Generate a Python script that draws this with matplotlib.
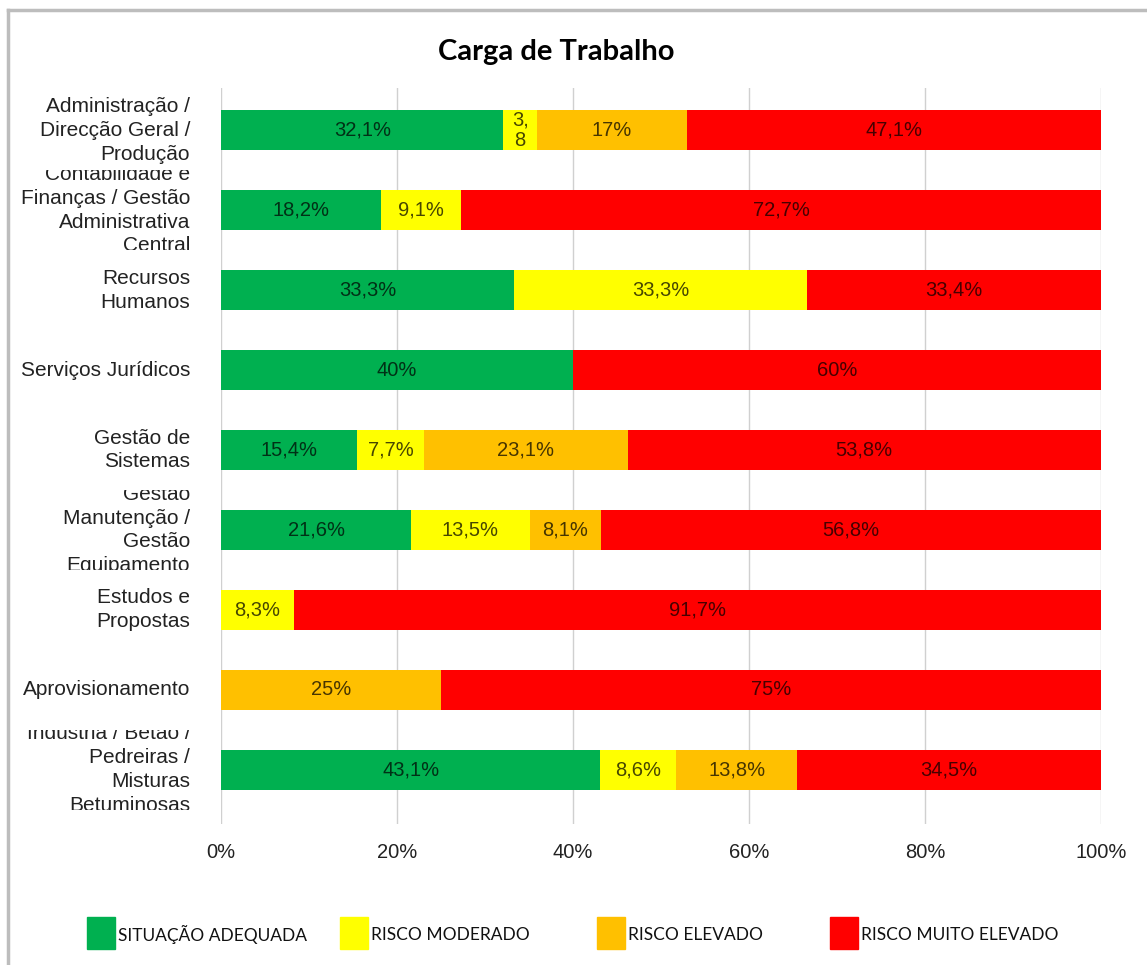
import numpy as np
import matplotlib
matplotlib.use('Agg')
import matplotlib.pyplot as plt
from matplotlib.patches import Rectangle
from matplotlib.lines import Line2D
from matplotlib.transforms import Bbox, TransformedBbox, blended_transform_factory

# data
categories = [
    'Administração /\nDirecção Geral /\nProdução',
    'Contabilidade e\nFinanças / Gestão\nAdministrativa\nCentral',
    'Recursos\nHumanos',
    'Serviços Jurídicos',
    'Gestão de\nSistemas',
    'Gestão\nManutenção /\nGestão\nEquipamento',
    'Estudos e\nPropostas',
    'Aprovisionamento',
    'Indústria / Betão /\nPedreiras /\nMisturas\nBetuminosas',
]
series_names = ['SITUAÇÃO ADEQUADA', 'RISCO MODERADO', 'RISCO ELEVADO', 'RISCO MUITO ELEVADO']
adequada = [32.1, 18.2, 33.3, 40, 15.4, 21.6, 0, 0, 43.1]
moderado = [3.8, 9.1, 33.3, 0, 7.7, 13.5, 8.3, 0, 8.6]
elevado = [17, 0, 0, 0, 23.1, 8.1, 0, 25, 13.8]
muito_elevado = [47.1, 72.7, 33.4, 60, 53.8, 56.8, 91.7, 75, 34.5]
series = [adequada, moderado, elevado, muito_elevado]
colors = ['#00B050', '#FFFF00', '#FFC000', '#FF0000']
xticks = [0, 20, 40, 60, 80, 100]

plt.rcParams['font.family'] = ['Liberation Sans', 'DejaVu Sans']

fig = plt.figure(figsize=(11.47, 9.65), dpi=100)
ax = fig.add_axes([221/1147, 1-824/965, 880/1147, 736/965])

y = np.arange(len(categories))
left = np.zeros(len(categories))
for vals, c in zip(series, colors):
    vals = np.array(vals, dtype=float)
    ax.barh(y, vals, left=left, height=0.5, color=c, zorder=2)
    for yi, (l, v) in enumerate(zip(left, vals)):
        if v <= 0:
            continue
        txt = ('%g' % v).replace('.', ',') + '%'
        if v < 5:
            # too narrow: the value wraps onto two lines
            txt = ('%g' % v).replace('.', ',\n')
        ax.text(l + v/2, yi, txt, ha='center', va='center', fontsize=14.5,
                color='black', alpha=0.72, linespacing=1.1, zorder=3)
    left += vals

ax.set_xlim(0, 100)
ax.set_ylim(len(categories) - 0.32, -0.53)
ax.set_xticks(xticks)
ax.set_xticklabels(['%d%%' % t for t in xticks], fontsize=14.5, color='#222222')
ax.tick_params(axis='x', length=0, pad=14)
ax.set_yticks([])
ax.grid(axis='x', color='#d0d0d0', linewidth=1, zorder=0)
for s in ax.spines.values():
    s.set_visible(False)

# category labels clipped to their band, like the original
tr = blended_transform_factory(ax.transAxes, ax.transData)
for i, cat in enumerate(categories):
    t = ax.text(-0.035, i, cat, transform=tr, ha='right', va='center',
                fontsize=15, color='#222222', linespacing=1.32, clip_on=True)
    t.set_clip_box(TransformedBbox(Bbox([[-0.3, i - 0.5], [0, i + 0.5]]), tr))

fig.text(556/1147, 1-52/965, 'Carga de Trabalho', ha='center', va='center',
         fontsize=21, fontweight='bold', family=['Lato', 'DejaVu Sans'])

# legend
leg_x = [87, 340, 597, 830]
for lx, name, c in zip(leg_x, series_names, colors):
    fig.patches.append(Rectangle((lx/1147, 1-949/965), 28/1147, 32/965,
                                 transform=fig.transFigure, color=c))
    fig.text((lx+31)/1147, 1-933/965, name, ha='left', va='center_baseline',
             fontsize=12.5, family=['Lato', 'DejaVu Sans'], color='#111111')

# screenshot frame
fig.add_artist(Line2D([8/1147, 8/1147], [0, 1-10/965], transform=fig.transFigure,
                      color='#bdbdbd', linewidth=2.5))
fig.add_artist(Line2D([8/1147, 1], [1-10/965, 1-10/965], transform=fig.transFigure,
                      color='#bdbdbd', linewidth=2.5))

fig.savefig('out.png', dpi=100)
